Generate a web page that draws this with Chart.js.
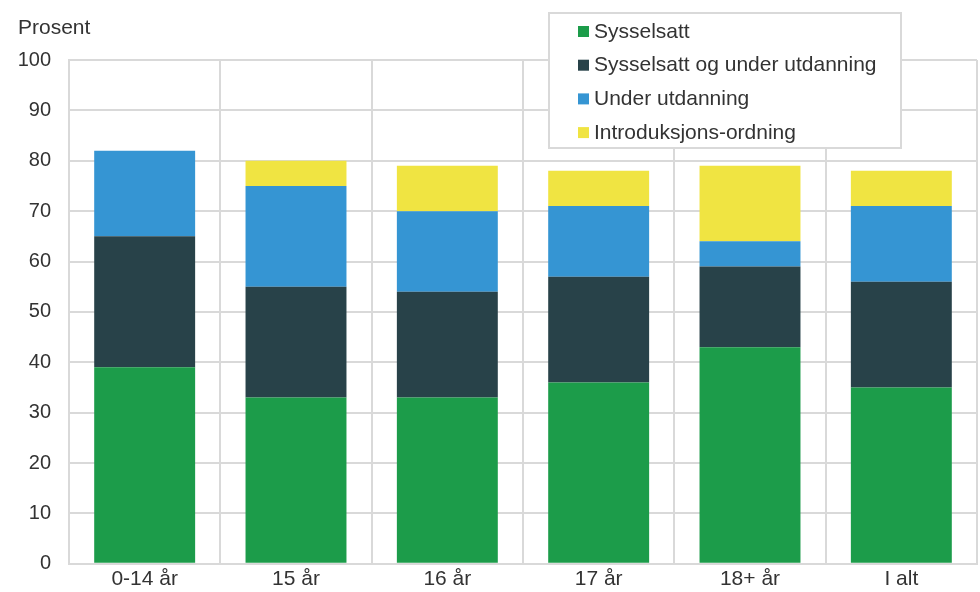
<!DOCTYPE html>
<html>
<head>
<meta charset="utf-8">
<script src="https://cdn.jsdelivr.net/npm/chart.js@4"></script>
<style>
  html, body { margin: 0; padding: 0; background: #fff; overflow: hidden; }
</style>
</head>
<body>
<canvas id="myChart" width="980" height="595"></canvas>
<script>
const categories = ['0-14 år', '15 år', '16 år', '17 år', '18+ år', 'I alt'];
const sysselsatt = [39, 33, 33, 36, 43, 35];
const sysselsattUtdanning = [26, 22, 21, 21, 16, 21];
const underUtdanning = [17, 20, 16, 14, 5, 15];
const introduksjon = [0, 5, 9, 7, 15, 7];
const yTicks = [0, 10, 20, 30, 40, 50, 60, 70, 80, 90, 100];

const textColor = '#333333';
const gridColor = '#d9d9d9';
const fontFamily = '"Liberation Sans", Arial, sans-serif';

// legend box + "Prosent" label drawn on the canvas
const boxLegend = {
    id: 'boxLegend',
    afterDraw(chart) {
        const ctx = chart.ctx;
        ctx.save();
        ctx.font = '21px ' + fontFamily;
        ctx.fillStyle = textColor;
        ctx.textBaseline = 'middle';
        ctx.textAlign = 'left';
        ctx.fillText('Prosent', 18, 28);

        ctx.fillStyle = '#ffffff';
        ctx.fillRect(549, 13, 352, 135);
        ctx.strokeStyle = gridColor;
        ctx.lineWidth = 2;
        ctx.strokeRect(549, 13, 352, 135);

        ctx.font = '21px ' + fontFamily;
        chart.data.datasets.forEach(function(ds, i) {
            const y = 31 + i * 33.7;
            ctx.fillStyle = ds.backgroundColor;
            ctx.fillRect(578, y - 5, 11, 11);
            ctx.fillStyle = textColor;
            ctx.fillText(ds.label, 594, y + 1);
        });
        ctx.restore();
    }
};

const ctx = document.getElementById('myChart').getContext('2d');
new Chart(ctx, {
    type: 'bar',
    data: {
        labels: categories,
        datasets: [
            { label: 'Sysselsatt', data: sysselsatt, backgroundColor: '#1c9c4a' },
            { label: 'Sysselsatt og under utdanning', data: sysselsattUtdanning, backgroundColor: '#284249' },
            { label: 'Under utdanning', data: underUtdanning, backgroundColor: '#3595d3' },
            { label: 'Introduksjons-ordning', data: introduksjon, backgroundColor: '#f0e442' }
        ]
    },
    options: {
        responsive: false,
        animation: false,
        layout: { padding: { top: 60, right: 3, left: 0, bottom: 0 } },
        datasets: { bar: { barPercentage: 0.667, categoryPercentage: 1.0 } },
        scales: {
            x: {
                stacked: true,
                grid: { color: gridColor, lineWidth: 2, drawTicks: false },
                border: { color: gridColor, width: 2 },
                ticks: { color: textColor, font: { family: fontFamily, size: 21 }, padding: 3 }
            },
            y: {
                stacked: true,
                min: 0,
                max: 100,
                afterBuildTicks: function(scale) { scale.ticks = yTicks.map(v => ({ value: v })); },
                grid: { color: gridColor, lineWidth: 2, drawTicks: false },
                border: { color: gridColor, width: 2 },
                ticks: { color: textColor, font: { family: fontFamily, size: 20 }, padding: 18 },
                afterFit: function(scale) { scale.width = 69; }
            }
        },
        plugins: {
            legend: { display: false },
            tooltip: { enabled: false }
        }
    },
    plugins: [boxLegend]
});
</script>
</body>
</html>
